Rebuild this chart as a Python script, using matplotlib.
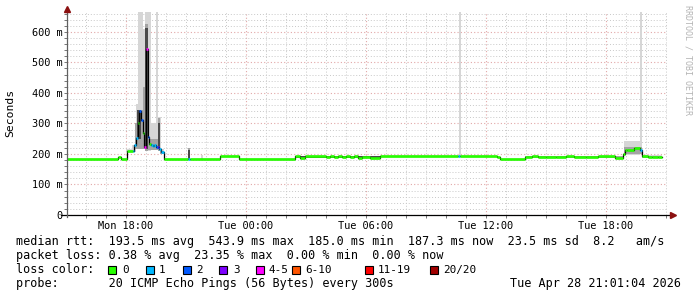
import matplotlib
matplotlib.use("Agg")
import matplotlib.pyplot as plt
from matplotlib.ticker import MultipleLocator, FixedLocator, FuncFormatter
from matplotlib.patches import Rectangle

W, H = 697, 297

# time in hours, 18 = Mon 18:00, 24 = Tue 00:00
x_start, x_stop = 15.05, 45.05
tick_hours = [18, 24, 30, 36, 42]
tick_labels = ["Mon 18:00", "Tue 00:00", "Tue 06:00", "Tue 12:00", "Tue 18:00"]

# median rtt steps (start hour, ms, lost pings of 20)
med_t = [15.05, 17.6, 17.75, 18.05, 18.33, 18.42, 18.50, 18.58, 18.67, 18.75,
         18.83, 18.92, 19.00, 19.08, 19.17, 19.25, 19.33, 19.42, 19.50, 19.58,
         19.67, 19.75, 19.90, 21.1, 21.2, 22.7, 23.65, 26.45, 26.7, 26.95,
         28.0, 28.2, 28.4, 28.6, 28.8, 29.0, 29.2, 29.4, 29.6, 29.8,
         30.2, 30.7, 34.6, 34.7, 36.55, 36.7, 37.95, 38.3, 38.6, 39.0,
         39.5, 40.0, 40.4, 41.0, 41.6, 42.45, 42.85, 42.95, 43.05, 43.4,
         43.7, 43.8, 44.1, 44.3, 44.6]
med_ms = [185, 190, 185, 210, 210, 230, 252, 300, 342, 312,
          270, 224, 544, 255, 232, 228, 226, 228, 224, 222,
          215, 208, 185, 185, 185, 194, 185, 193, 188, 194,
          189, 194, 189, 193, 190, 194, 189, 193, 188, 189,
          188, 194, 194, 194, 190, 185, 190, 192, 189, 191,
          189, 192, 190, 191, 192, 186, 200, 212, 214, 218,
          212, 192, 189, 191, 189]
med_loss = [0, 0, 0, 0, 1, 1, 1, 0, 2, 2,
            0, 5, 5, 2, 0, 1, 1, 1, 2, 3,
            1, 1, 0, 1, 0, 0, 0, 0, 0, 0,
            0, 0, 0, 0, 0, 0, 0, 0, 0, 0,
            0, 0, 1, 0, 0, 0, 0, 0, 0, 0,
            0, 0, 0, 0, 0, 0, 0, 0, 0, 0,
            1, 0, 0, 0, 0]
end_t = 44.8

# smoke: light outer band (ping min / max)
out_t = [15.05, 18.0, 18.3, 18.5, 18.6, 18.85, 18.95, 19.25, 19.5, 19.6,
         19.75, 19.9, 21.75, 21.85, 34.65, 34.75, 42.9, 43.7, 43.8]
out_lo = [185, 205, 205, 215, 215, 215, 210, 212, 212, 210,
          200, 185, 185, 185, 194, 194, 195, 200, 188]
out_hi = [185, 215, 230, 365, 700, 610, 700, 300, 700, 320,
          215, 185, 196, 185, 700, 194, 243, 700, 196]

# smoke: middle band
mid_t = [15.05, 18.45, 18.6, 18.85, 18.95, 19.1, 19.6, 19.7, 19.9, 21.1,
         21.2, 26.45, 30.7, 37.95, 42.9, 43.8]
mid_lo = [185, 215, 215, 215, 210, 212, 210, 200, 185, 185,
          185, 186, 194, 186, 200, 188]
mid_hi = [185, 300, 345, 420, 625, 250, 318, 210, 185, 218,
          185, 194, 194, 193, 222, 194]

# smoke: dark core band
core_t = [15.05, 18.55, 18.75, 18.95, 19.08, 19.6, 19.68, 21.1, 21.18, 26.45, 30.7]
core_lo = [185, 250, 185, 215, 185, 215, 185, 185, 185, 186, 194]
core_hi = [185, 345, 185, 612, 185, 300, 185, 214, 185, 192, 194]

loss_steps = [0, 1, 2, 3, 5, 10, 19, 20]
loss_names = ["0", "1", "2", "3", "4-5", "6-10", "11-19", "20/20"]
loss_colors = ["#26ff00", "#00b8ff", "#0059ff", "#7e00ff", "#ff00ff",
               "#ff5500", "#ff0000", "#a10000"]


def loss_color(n):
    for s, c in zip(loss_steps, loss_colors):
        if n <= s:
            return c
    return loss_colors[-1]


mono = "DejaVu Sans Mono"
fig = plt.figure(figsize=(W / 100, H / 100), dpi=100)
fig.patch.set_facecolor("white")
ax = fig.add_axes([67 / W, (H - 215) / H, 600 / W, 203 / H])
ax.set_xlim(x_start, x_stop)
ax.set_ylim(0, 665)

# grid
ax.xaxis.set_major_locator(FixedLocator(tick_hours))
ax.xaxis.set_minor_locator(MultipleLocator(1))
ax.yaxis.set_major_locator(MultipleLocator(100))
ax.yaxis.set_minor_locator(MultipleLocator(20))
ax.grid(which="minor", color="#c8c8c8", linestyle=(0, (1, 2)), linewidth=0.7)
ax.grid(which="major", color="#e2a8a8", linestyle=(0, (1, 2)), linewidth=0.8)
ax.set_axisbelow(True)

# smoke
for tt, lo, hi, col in [(out_t, out_lo, out_hi, "#d6d6d6"),
                        (mid_t, mid_lo, mid_hi, "#a4a4a4"),
                        (core_t, core_lo, core_hi, "#4a4a4a")]:
    ax.fill_between(tt + [end_t], lo + [lo[-1]], hi + [hi[-1]],
                    step="post", color=col, linewidth=0)

# median line
edges = med_t + [end_t]
ax.step(edges, med_ms + [med_ms[-1]], where="post", color="black", lw=0.9)
for i in range(len(med_ms)):
    ax.hlines(med_ms[i], edges[i], edges[i + 1], color=loss_color(med_loss[i]),
              lw=1.9, capstyle="butt")

# axes
for s in ax.spines.values():
    s.set_visible(False)
ax.plot([-0.01, 1.008], [0, 0], transform=ax.transAxes, color="black", lw=0.9, clip_on=False)
ax.plot([0, 0], [-0.01, 1.0], transform=ax.transAxes, color="#606060", lw=0.9, clip_on=False)
ax.plot([1.01], [0], transform=ax.transAxes, marker=">", color="#8b1010", ms=4, clip_on=False)
ax.plot([0], [1.015], transform=ax.transAxes, marker="^", color="#8b1010", ms=4, clip_on=False)

ax.set_xticklabels(tick_labels)
ax.yaxis.set_major_formatter(FuncFormatter(lambda v, p: f"{int(v)} m" if v else "0"))
ax.tick_params(which="both", length=2, width=0.6, color="#606060")
ax.tick_params(axis="x", which="major", pad=2.5, labelsize=7.4)
ax.tick_params(axis="y", which="major", pad=1.5, labelsize=7.4)
for lab in ax.get_xticklabels() + ax.get_yticklabels():
    lab.set_family(mono)

fig.text(10 / W, 1 - 113 / H, "Seconds", rotation=90, ha="center", va="center",
         family=mono, fontsize=8.2)
fig.text(688 / W, 1 - 5 / H, "RRDTOOL / TOBI OETIKER", rotation=270, ha="center", va="top",
         family=mono, fontsize=6.0, color="#b4b4b4")

# legend block
rows = [
    "median rtt:  193.5 ms avg  543.9 ms max  185.0 ms min  187.3 ms now  23.5 ms sd  8.2   am/s",
    "packet loss: 0.38 % avg  23.35 % max  0.00 % min  0.00 % now",
    "loss color:",
    "probe:       20 ICMP Echo Pings (56 Bytes) every 300s",
]
base = [245, 259, 273, 287]
for r, y in zip(rows, base):
    fig.text(16 / W, 1 - y / H, r, family=mono, fontsize=8.45, va="baseline")
fig.text(681 / W, 1 - 287 / H, "Tue Apr 28 21:01:04 2026", family=mono, fontsize=8.45,
         va="baseline", ha="right")

box_x = [108, 145.5, 182.5, 219, 255.5, 292, 365, 430]
lab_x = [122, 159, 196, 233, 268.5, 305.5, 377.5, 443.5]
for bx, lx, c, nm in zip(box_x, lab_x, loss_colors, loss_names):
    fig.add_artist(Rectangle((bx / W, 1 - 274 / H), 8 / W, 8 / H, transform=fig.transFigure,
                             facecolor=c, edgecolor="black", linewidth=0.8))
    fig.text(lx / W, 1 - 273 / H, nm, family=mono, fontsize=7.9, va="baseline")

fig.savefig("out.png", dpi=100)
